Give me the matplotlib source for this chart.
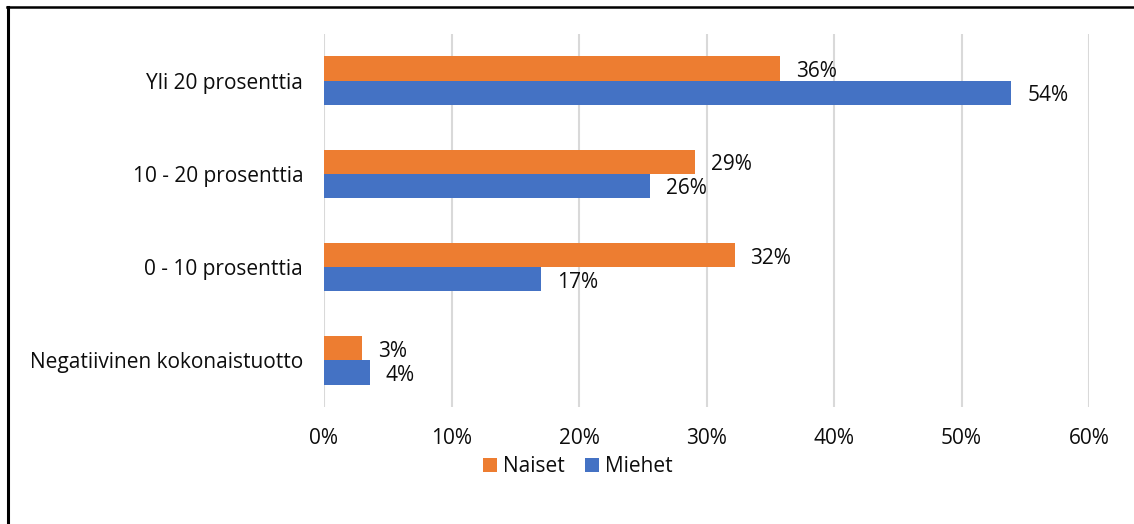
import numpy as np
import matplotlib.pyplot as plt
from matplotlib.lines import Line2D

categories = ["Negatiivinen kokonaistuotto", "0 - 10 prosenttia", "10 - 20 prosenttia", "Yli 20 prosenttia"]
naiset = [3.0, 32.2, 29.1, 35.8]
miehet = [3.6, 17.0, 25.6, 53.9]
xticks = [0, 10, 20, 30, 40, 50, 60]

ORANGE = "#ED7D31"
BLUE = "#4472C4"
TEXT = "#0d0d0d"
FS = 15

plt.rcParams['font.family'] = ['Open Sans', 'DejaVu Sans']

fig = plt.figure(figsize=(11.34, 5.24), dpi=100)
ax = fig.add_axes([324 / 1134, 1 - 407 / 524, (1089 - 324) / 1134, (407 - 34) / 524])

y = np.arange(len(categories))
h = 0.26
bn = ax.barh(y + h / 2, naiset, height=h, color=ORANGE, label="Naiset", zorder=3)
bm = ax.barh(y - h / 2, miehet, height=h, color=BLUE, label="Miehet", zorder=3)

for bars, vals in ((bn, naiset), (bm, miehet)):
    for b, v in zip(bars, vals):
        ax.annotate(f"{v:.0f}%", (v, b.get_y() + b.get_height() / 2),
                    xytext=(16, -3), textcoords="offset pixels",
                    va="center", ha="left", fontsize=FS, color=TEXT)

ax.set_xlim(0, 60)
ax.set_ylim(-0.5, len(categories) - 0.5)
ax.set_xticks(xticks)
ax.set_xticklabels([f"{t}%" for t in xticks])
ax.set_yticks(y)
ax.set_yticklabels(categories)
ax.tick_params(axis="both", length=0, labelsize=FS, labelcolor=TEXT)
ax.tick_params(axis="x", pad=15)
ax.tick_params(axis="y", pad=15)
ax.xaxis.grid(True, color="#d9d9d9", linewidth=1.5, zorder=0)
for s in ax.spines.values():
    s.set_visible(False)

ax.legend(loc="center", bbox_to_anchor=(578 / 1134, 1 - 467 / 524), bbox_transform=fig.transFigure,
          ncol=2, frameon=False, fontsize=FS, handlelength=0.65, handleheight=0.65,
          handletextpad=0.3, columnspacing=1.0, labelcolor=TEXT)

# outer frame: top and left edges only
fig.add_artist(Line2D([7 / 1134, 1], [1 - 6.5 / 524] * 2, transform=fig.transFigure, color="black", linewidth=1.8))
fig.add_artist(Line2D([8 / 1134] * 2, [0, 1 - 6.5 / 524], transform=fig.transFigure, color="black", linewidth=2.2))

fig.savefig("out.png", dpi=100)
